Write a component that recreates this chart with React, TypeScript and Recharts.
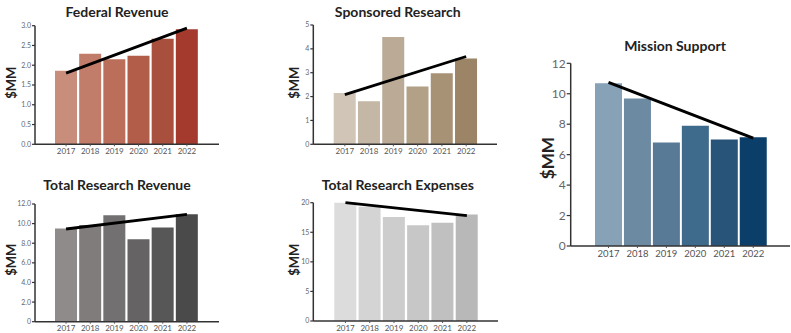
import React from 'react';
import { ComposedChart, Bar, Line, XAxis, YAxis, Cell } from 'recharts';

const years = ['2017', '2018', '2019', '2020', '2021', '2022'];

const federalRevenue = [1.86, 2.29, 2.15, 2.24, 2.67, 2.91];
const federalTrend = [1.8, 2.94];
const federalColors = ['#c98d7c', '#c27d6a', '#bb6e5a', '#b15d4a', '#a94f3d', '#a43a2d'];
const federalTicks = [0, 0.5, 1, 1.5, 2, 2.5, 3];

const sponsoredResearch = [2.15, 1.8, 4.5, 2.42, 2.98, 3.6];
const sponsoredTrend = [2.08, 3.68];
const sponsoredColors = ['#d0c5b7', '#c5b7a5', '#bbaa95', '#b2a087', '#a89276', '#9c8467'];
const sponsoredTicks = [0, 1, 2, 3, 4, 5];

const totalRevenue = [9.5, 9.85, 10.85, 8.4, 9.6, 10.95];
const totalRevenueTrend = [9.45, 10.95];
const totalRevenueColors = ['#8f8b8b', '#807c7c', '#727070', '#656363', '#585757', '#4a4a4a'];
const totalRevenueTicks = [0, 2, 4, 6, 8, 10, 12];

const totalExpenses = [20, 19.3, 17.6, 16.2, 16.6, 18.0];
const totalExpensesTrend = [20.0, 17.8];
const totalExpensesColors = ['#dcdcdd', '#d4d4d5', '#cdcdcd', '#c7c7c7', '#c0c0c0', '#b8b8b8'];
const totalExpensesTicks = [0, 5, 10, 15, 20];

const missionSupport = [10.69, 9.68, 6.79, 7.89, 6.99, 7.14];
const missionTrend = [10.75, 7.08];
const missionColors = ['#87a1b7', '#6d8aa3', '#587a96', '#3e6a8b', '#285479', '#0b3f69'];
const missionTicks = [0, 2, 4, 6, 8, 10, 12];

const FONT = 'Lato, "Open Sans", sans-serif';

type ChartProps = {
  title: string;
  values: number[];
  trend: number[];
  colors: string[];
  ticks: number[];
  fmt: (v: number) => string;
  left: number;
  top: number;
  axisX: number;
  axisEnd: number;
  plotTop: number;
  plotBottom: number;
  padL: number;
  padR: number;
  titleX: number;
  titleY: number;
  labelX: number;
  labelY: number;
  titleSize: number;
  labelSize: number;
  yTickSize: number;
  xTickSize: number;
  tickLen: number;
  trendWidth: number;
};

function MiniChart(p: ChartProps) {
  const data = years.map((y, i) => ({
    year: y,
    value: p.values[i],
    trend: i === 0 ? p.trend[0] : i === years.length - 1 ? p.trend[1] : null,
  }));
  const width = p.axisEnd - p.left + 1;
  const height = p.plotBottom - p.top + 24;
  const xAxisHeight = height - (p.plotBottom - p.top);
  return (
    <>
      <div
        style={{
          position: 'absolute',
          left: p.titleX - 120,
          width: 240,
          top: p.titleY - p.titleSize * 0.62,
          textAlign: 'center',
          fontFamily: FONT,
          fontWeight: 700,
          fontSize: p.titleSize,
          lineHeight: `${p.titleSize * 1.2}px`,
          color: '#222',
          whiteSpace: 'nowrap',
        }}
      >
        {p.title}
      </div>
      <div
        style={{
          position: 'absolute',
          left: p.labelX - 30,
          top: p.labelY - p.labelSize * 0.6,
          width: 60,
          textAlign: 'center',
          fontFamily: FONT,
          fontWeight: 700,
          fontSize: p.labelSize,
          lineHeight: `${p.labelSize * 1.2}px`,
          color: '#222',
          transform: 'rotate(-90deg)',
        }}
      >
        $MM
      </div>
      <div style={{ position: 'absolute', left: p.left, top: p.top }}>
        <ComposedChart
          width={width}
          height={height}
          data={data}
          margin={{ top: p.plotTop - p.top, right: 1, left: 0, bottom: 0 }}
          barCategoryGap={1}
        >
          <XAxis
            dataKey="year"
            padding={{ left: p.padL, right: p.padR }}
            height={xAxisHeight}
            axisLine={{ stroke: '#333', strokeWidth: 1.5 }}
            tickLine={{ stroke: '#555' }}
            tickSize={2}
            tickMargin={2}
            tick={{ fontSize: p.xTickSize, fill: '#555', fontFamily: FONT }}
            interval={0}
          />
          <YAxis
            width={p.axisX - p.left}
            domain={[0, p.ticks[p.ticks.length - 1]]}
            ticks={p.ticks}
            tickFormatter={p.fmt}
            axisLine={{ stroke: '#333', strokeWidth: 1.5 }}
            tickLine={{ stroke: '#333', strokeWidth: 1.2 }}
            tickSize={p.tickLen}
            tickMargin={1}
            tick={{ fontSize: p.yTickSize, fill: '#666', fontFamily: FONT }}
            interval={0}
          />
          <Bar dataKey="value" isAnimationActive={false}>
            {data.map((d, i) => (
              <Cell key={d.year} fill={p.colors[i]} />
            ))}
          </Bar>
          <Line
            dataKey="trend"
            connectNulls
            stroke="#000"
            strokeWidth={p.trendWidth}
            dot={false}
            activeDot={false}
            isAnimationActive={false}
          />
        </ComposedChart>
      </div>
    </>
  );
}

export default function App() {
  return (
    <div style={{ position: 'absolute', left: 0, top: 0, width: 791, height: 333, background: '#fff', overflow: 'hidden' }}>
      <MiniChart
        title="Federal Revenue"
        values={federalRevenue}
        trend={federalTrend}
        colors={federalColors}
        ticks={federalTicks}
        fmt={(v) => v.toFixed(1)}
        left={0}
        top={0}
        axisX={35}
        axisEnd={219}
        plotTop={25.7}
        plotBottom={144.3}
        padL={19}
        padR={20}
        titleX={117}
        titleY={12.3}
        labelX={12.3}
        labelY={82.5}
        titleSize={14}
        labelSize={13}
        yTickSize={7}
        xTickSize={8}
        tickLen={3}
        trendWidth={2.8}
      />
      <MiniChart
        title="Sponsored Research"
        values={sponsoredResearch}
        trend={sponsoredTrend}
        colors={sponsoredColors}
        ticks={sponsoredTicks}
        fmt={(v) => String(v)}
        left={270}
        top={0}
        axisX={313.3}
        axisEnd={497}
        plotTop={25}
        plotBottom={144.3}
        padL={19.4}
        padR={18.7}
        titleX={397.8}
        titleY={12.3}
        labelX={295.3}
        labelY={82.5}
        titleSize={14}
        labelSize={13}
        yTickSize={7}
        xTickSize={8}
        tickLen={3}
        trendWidth={2.8}
      />
      <MiniChart
        title="Total Research Revenue"
        values={totalRevenue}
        trend={totalRevenueTrend}
        colors={totalRevenueColors}
        ticks={totalRevenueTicks}
        fmt={(v) => (v === 0 ? '0' : v.toFixed(1))}
        left={0}
        top={165}
        axisX={35}
        axisEnd={219}
        plotTop={204}
        plotBottom={321.7}
        padL={19}
        padR={20}
        titleX={117}
        titleY={185.5}
        labelX={12.3}
        labelY={260}
        titleSize={14}
        labelSize={13}
        yTickSize={7}
        xTickSize={8}
        tickLen={3}
        trendWidth={2.8}
      />
      <MiniChart
        title="Total Research Expenses"
        values={totalExpenses}
        trend={totalExpensesTrend}
        colors={totalExpensesColors}
        ticks={totalExpensesTicks}
        fmt={(v) => String(v)}
        left={270}
        top={165}
        axisX={313.3}
        axisEnd={498}
        plotTop={202.7}
        plotBottom={321}
        padL={20}
        padR={19}
        titleX={397.8}
        titleY={185.5}
        labelX={295.3}
        labelY={260}
        titleSize={14}
        labelSize={13}
        yTickSize={7}
        xTickSize={8}
        tickLen={3}
        trendWidth={2.8}
      />
      <MiniChart
        title="Mission Support"
        values={missionSupport}
        trend={missionTrend}
        colors={missionColors}
        ticks={missionTicks}
        fmt={(v) => String(v)}
        left={550}
        top={40}
        axisX={570.7}
        axisEnd={790}
        plotTop={63.3}
        plotBottom={246}
        padL={23.3}
        padR={22.3}
        titleX={675}
        titleY={46.7}
        labelX={548.3}
        labelY={158}
        titleSize={14}
        labelSize={17}
        yTickSize={12}
        xTickSize={9.5}
        tickLen={4}
        trendWidth={3}
      />
    </div>
  );
}
